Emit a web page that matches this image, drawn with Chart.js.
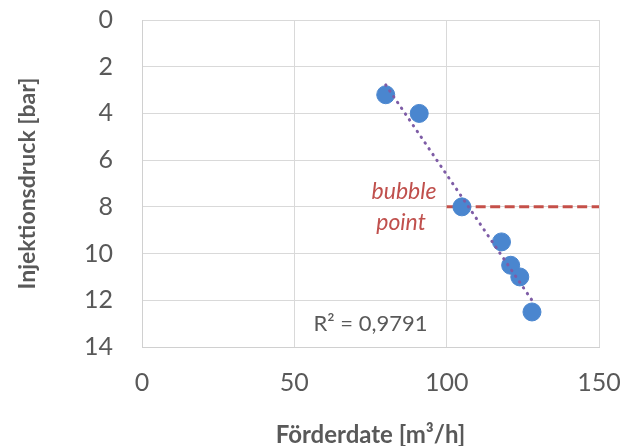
<!DOCTYPE html>
<html>
<head>
<meta charset="utf-8">
<script src="https://cdn.jsdelivr.net/npm/chart.js@4"></script>
<style>
  html, body { margin: 0; padding: 0; background: #fff; }
  #wrap { width: 626px; height: 446px; }
</style>
</head>
<body>
<div id="wrap"><canvas id="chart" width="626" height="446"></canvas></div>
<script>
// measured points
const flowRates = [80, 91, 105, 118, 121, 124, 128];
const pressures = [3.2, 4.0, 8.0, 9.5, 10.5, 11.0, 12.5];

// linear trendline ends
const trendX = [80, 128];
const trendY = [2.78, 12.0];

// bubble point marker line
const bubbleX = [100, 150];
const bubbleY = [8, 8];

const xTicks = [0, 50, 100, 150];
const yTicks = [0, 2, 4, 6, 8, 10, 12, 14];

const bubbleLabel = ["bubble", "point"];
const bubbleLabelPos = [86, 7.35];
const r2Label = "R² = 0,9791";
const r2LabelPos = [75, 13.0];

const FONT = "Lato, 'Open Sans', sans-serif";
const GREY = "#595959";

const toPoints = (xs, ys) => xs.map((x, i) => ({ x: x, y: ys[i] }));

// free text notes (bubble point label, R²)
const textPlugin = {
  id: "notes",
  afterDatasetsDraw(chart) {
    const { ctx, scales } = chart;
    ctx.save();
    ctx.textAlign = "center";
    ctx.textBaseline = "middle";
    ctx.fillStyle = "#c0504d";
    ctx.font = "italic 23px " + FONT;
    const bx = scales.x.getPixelForValue(bubbleLabelPos[0]);
    const by = scales.y.getPixelForValue(bubbleLabelPos[1]);
    ctx.fillText(bubbleLabel[0], bx, by);
    ctx.fillText(bubbleLabel[1], bx - 3, by + 31);
    ctx.fillStyle = GREY;
    ctx.font = "22px " + FONT;
    ctx.fillText(r2Label, scales.x.getPixelForValue(r2LabelPos[0]), scales.y.getPixelForValue(r2LabelPos[1]));
    ctx.restore();
  }
};

new Chart(document.getElementById("chart"), {
  type: "scatter",
  data: {
    datasets: [
      {
        label: "Injektionsdruck",
        data: toPoints(flowRates, pressures),
        backgroundColor: "#4a86cf",
        borderColor: "#4a86cf",
        pointRadius: 9,
        order: 1,
      },
      {
        type: "line",
        label: "Trend",
        data: toPoints(trendX, trendY),
        borderColor: "#7e5ca6",
        borderWidth: 3,
        borderDash: [0.5, 6.5],
        borderCapStyle: "round",
        pointRadius: 0,
        fill: false,
        order: 0,
      },
      {
        type: "line",
        label: "bubble point",
        data: toPoints(bubbleX, bubbleY),
        borderColor: "#c55049",
        borderWidth: 3,
        borderDash: [10, 4.5],
        pointRadius: 0,
        fill: false,
        order: 2,
      },
    ],
  },
  options: {
    responsive: false,
    animation: false,
    layout: { padding: { top: 20, right: 27, left: 0, bottom: 0 } },
    plugins: { legend: { display: false }, tooltip: { enabled: false } },
    scales: {
      x: {
        type: "linear",
        min: 0,
        max: 150,
        afterBuildTicks: (scale) => { scale.ticks = xTicks.map((v) => ({ value: v })); },
        afterFit: (scale) => { scale.height = 99; scale.paddingLeft = 0; scale.paddingRight = 0; },
        grid: { color: "#d9d9d9", drawTicks: false },
        border: { color: "#d0d0d0" },
        ticks: { color: GREY, font: { family: FONT, size: 25 }, padding: 21, maxRotation: 0 },
        title: {
          display: true,
          text: "Förderdate [m³/h]",
          color: GREY,
          font: { family: FONT, size: 24, weight: "bold", lineHeight: 1 },
          padding: { top: 0, bottom: -1 },
        },
      },
      y: {
        type: "linear",
        reverse: true,
        min: 0,
        max: 14,
        afterBuildTicks: (scale) => { scale.ticks = yTicks.map((v) => ({ value: v })); },
        afterFit: (scale) => { scale.width = 142; scale.paddingTop = 0; scale.paddingBottom = 0; },
        grid: { color: "#d9d9d9", drawTicks: false },
        border: { color: "#d0d0d0" },
        ticks: { color: GREY, font: { family: FONT, size: 25 }, padding: 29 },
        title: {
          display: true,
          text: "Injektionsdruck [bar]",
          color: GREY,
          font: { family: FONT, size: 23, weight: "bold", lineHeight: 1 },
          padding: { top: 16, bottom: 0 },
        },
      },
    },
  },
  plugins: [textPlugin],
});
</script>
</body>
</html>
